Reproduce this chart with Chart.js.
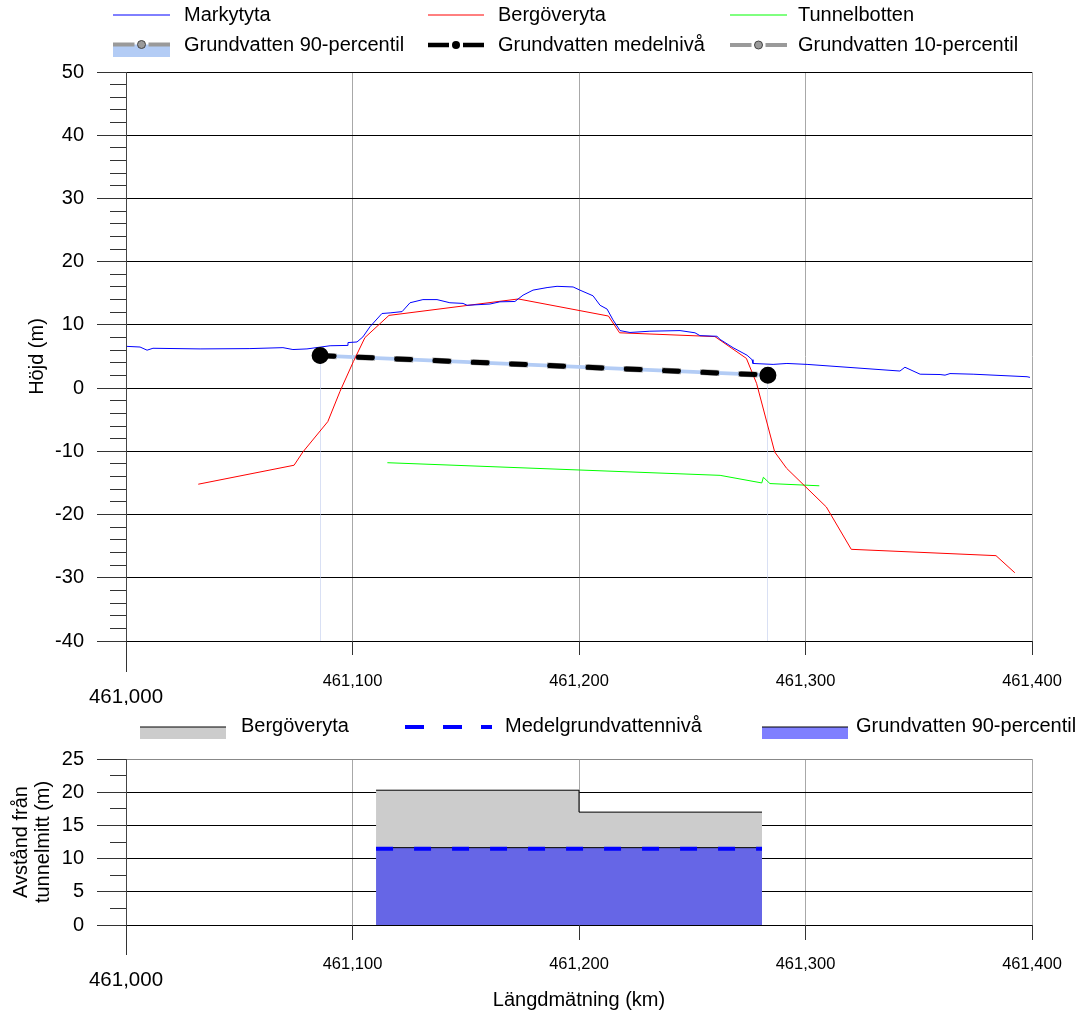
<!DOCTYPE html>
<html>
<head>
<meta charset="utf-8">
<script src="https://cdn.jsdelivr.net/npm/chart.js@4.4.1/dist/chart.umd.min.js"></script>
<style>
  html, body { margin: 0; padding: 0; background: #fff; }
  #wrap { position: relative; width: 1080px; height: 1015px; }
  #top { position: absolute; left: 0; top: 0; width: 1080px; height: 705px; }
  #bottom { position: absolute; left: 0; top: 705px; width: 1080px; height: 310px; }
</style>
</head>
<body>
<div id="wrap">
  <div id="top"><canvas id="profil"></canvas></div>
  <div id="bottom"><canvas id="avstand"></canvas></div>
</div>
<script>
// --- data (längdmätning in m, höjd in m) ---
var markX = [461000.4, 461006.2, 461009.3, 461011.9, 461032.7, 461054.7, 461069.3, 461073.7, 461079.9, 461090.1,
  461097.6, 461098.0, 461102.0, 461104.6, 461107.7, 461113.0, 461116.6, 461121.9, 461125.4, 461131.1,
  461137.3, 461143.0, 461148.8, 461150.6, 461160.7, 461165.1, 461171.7, 461175.3, 461179.7, 461185.9,
  461190.3, 461197.4, 461200.4, 461206.2, 461209.3, 461212.4, 461215.0, 461218.1, 461222.5, 461231.3,
  461244.6, 461251.2, 461253.4, 461260.9, 461262.3, 461268.0, 461274.2, 461276.4, 461276.8, 461285.7,
  461291.8, 461300.7, 461341.7, 461343.9, 461350.6, 461359.4, 461361.6, 461363.8, 461374.0, 461397.8, 461399.1];
var markY = [6.6, 6.5, 6.0, 6.3, 6.2, 6.25, 6.4, 6.1, 6.2, 6.7,
  6.75, 7.2, 7.3, 8.1, 9.7, 11.8, 11.9, 12.1, 13.5, 14.0,
  14.0, 13.5, 13.4, 13.1, 13.3, 13.65, 13.7, 14.7, 15.5, 15.9,
  16.1, 16.0, 15.5, 14.6, 13.1, 12.5, 10.8, 9.1, 8.8, 9.0,
  9.1, 8.75, 8.3, 8.2, 7.7, 6.4, 5.2, 4.5, 3.9, 3.75,
  3.9, 3.75, 2.7, 3.3, 2.2, 2.15, 2.05, 2.3, 2.2, 1.8, 1.7];

var bergX = [461031.9, 461074.2, 461078.1, 461089.1, 461094.5, 461100.4, 461105.5, 461116.1, 461173.2, 461213.0,
  461217.9, 461260.0, 461273.9, 461278.4, 461286.4, 461291.7, 461309.2, 461320.2, 461384.1, 461392.4];
var bergY = [-15.2, -12.2, -10.1, -5.3, -0.5, 4.2, 8.0, 11.5, 14.1, 11.4,
  8.75, 8.15, 4.7, 0.75, -10.1, -12.7, -18.8, -25.5, -26.5, -29.2];

var tunnelX = [461115.4, 461262.3, 461280.7, 461281.4, 461284.3, 461306.1];
var tunnelY = [-11.8, -13.8, -15.0, -14.1, -15.1, -15.45];

var gwX = [461085.7, 461283.4];
var gw90 = [5.45, 2.35];
var gwMedel = [5.15, 2.05];
var gw10 = [4.85, 1.75];

// avstånd från tunnelmitt
var bergAvstandX = [461110.4, 461200.0, 461280.8];
var bergAvstand = [20.3, 17.0, 17.0];
var gwAvstandX = [461110.4, 461280.8];
var gw90Avstand = [11.65, 11.65];
var medelAvstand = [11.5, 11.5];

var xTicks = { min: 461000, max: 461400, step: 100 };

var FONT = "'Liberation Sans', Arial, sans-serif";
Chart.defaults.font.family = FONT;
Chart.defaults.color = '#000';

function pts(xs, ys) {
  return xs.map(function (x, i) { return { x: x, y: ys[i] }; });
}

function xLabel(v) {
  var s = v.toLocaleString('en-US');
  return v === xTicks.min ? ['', s] : s;
}

function xAxis(pad, boxHeight, title) {
  return {
    type: 'linear',
    min: xTicks.min,
    max: xTicks.max,
    afterFit: function (s) {
      s.height = boxHeight;
      // tick padding is only there to push labels down, not sideways
      s.paddingLeft = 0;
      s.paddingRight = 0;
    },
    grid: { color: '#a8a8a8', drawTicks: false },
    border: { color: '#000' },
    ticks: {
      stepSize: xTicks.step,
      autoSkip: false,
      maxRotation: 0,
      padding: pad,
      callback: xLabel,
      font: function (c) {
        return c.tick && c.tick.value === xTicks.min ? { size: 20.5, lineHeight: 0.83 } : { size: 16.5, lineHeight: 1.2 };
      }
    },
    title: title
  };
}

// tick marks on both axes (long majors, short minors)
function axisTicks(yMinor, xLong, xShort) {
  return {
    id: 'axisTicks',
    afterDraw: function (chart) {
      var ctx = chart.ctx, a = chart.chartArea, x = chart.scales.x, y = chart.scales.y;
      var major = y.options.ticks.stepSize;
      ctx.save();
      ctx.strokeStyle = '#333';
      ctx.lineWidth = 1;
      ctx.beginPath();
      for (var v = y.min; v <= y.max + 1e-9; v += yMinor) {
        var py = Math.round(y.getPixelForValue(v) - 0.5) + 0.5;
        var isMajor = Math.abs(v / major - Math.round(v / major)) < 1e-6;
        ctx.moveTo(a.left - (isMajor ? 29 : 16), py);
        ctx.lineTo(a.left, py);
      }
      x.ticks.forEach(function (t, i) {
        var px = Math.round(x.getPixelForValue(t.value) - 0.5) + 0.5;
        ctx.moveTo(px, a.bottom);
        ctx.lineTo(px, a.bottom + (i === 0 ? xLong : xShort));
      });
      ctx.stroke();
      ctx.restore();
    }
  };
}

// legend laid out as a table
function tableLegend(items) {
  return {
    id: 'tableLegend',
    afterDraw: function (chart) {
      var ctx = chart.ctx;
      ctx.save();
      items.forEach(function (it) {
        if (it.box) {
          ctx.fillStyle = it.box;
          ctx.fillRect(it.x, it.y, it.w, it.boxH);
        }
        ctx.strokeStyle = it.line;
        ctx.lineWidth = it.lw;
        ctx.setLineDash(it.dash || []);
        ctx.beginPath();
        var mid = it.x + it.w / 2;
        if (it.gap) {
          ctx.moveTo(it.x, it.y); ctx.lineTo(mid - it.gap, it.y);
          ctx.moveTo(mid + it.gap, it.y); ctx.lineTo(it.x + it.w, it.y);
        } else {
          ctx.moveTo(it.x, it.y); ctx.lineTo(it.x + it.w, it.y);
        }
        ctx.stroke();
        ctx.setLineDash([]);
        if (it.dot) {
          ctx.beginPath();
          ctx.arc(mid, it.y, 4, 0, Math.PI * 2);
          ctx.fillStyle = it.dot;
          ctx.fill();
          if (it.dotStroke) { ctx.strokeStyle = it.dotStroke; ctx.lineWidth = 1; ctx.stroke(); }
        }
        ctx.fillStyle = '#000';
        ctx.font = '20px ' + FONT;
        ctx.textBaseline = 'middle';
        ctx.fillText(chart.data.datasets[it.ds].label, it.tx, it.ty);
      });
      ctx.restore();
    }
  };
}

// faint edges below the groundwater ends
var gwEdges = {
  id: 'gwEdges',
  beforeDatasetsDraw: function (chart) {
    var ctx = chart.ctx, a = chart.chartArea, x = chart.scales.x, y = chart.scales.y;
    ctx.save();
    ctx.strokeStyle = 'rgba(185,198,235,0.55)';
    ctx.lineWidth = 1;
    ctx.beginPath();
    [0, gwX.length - 1].forEach(function (i) {
      var px = Math.round(x.getPixelForValue(gwX[i]) - 0.5) + 0.5;
      ctx.moveTo(px, y.getPixelForValue(gw10[i]));
      ctx.lineTo(px, a.bottom);
    });
    ctx.stroke();
    ctx.restore();
  }
};

var profil = new Chart(document.getElementById('profil'), {
  type: 'line',
  data: {
    datasets: [
      { label: 'Markytyta', data: pts(markX, markY), borderColor: '#0000ff', borderWidth: 1, pointRadius: 0, order: 1 },
      { label: 'Bergöveryta', data: pts(bergX, bergY), borderColor: '#ff0000', borderWidth: 1, pointRadius: 0, order: 2 },
      { label: 'Tunnelbotten', data: pts(tunnelX, tunnelY), borderColor: '#00ff00', borderWidth: 1, pointRadius: 0, order: 3 },
      { label: 'Grundvatten 90-percentil', data: pts(gwX, gw90), borderColor: '#9a9a9a', borderWidth: 2,
        borderDash: [19, 19.3], borderDashOffset: 2.5, fill: '+2', backgroundColor: '#b3ccf5',
        pointRadius: 5, pointBackgroundColor: '#9a9a9a', pointBorderColor: '#333', order: 4 },
      { label: 'Grundvatten medelnivå', data: pts(gwX, gwMedel), borderColor: '#000', borderWidth: 5,
        borderDash: [14, 24.3], borderCapStyle: 'round',
        pointRadius: 6, pointBackgroundColor: '#000', pointBorderColor: '#000', order: 0 },
      { label: 'Grundvatten 10-percentil', data: pts(gwX, gw10), borderColor: '#9a9a9a', borderWidth: 2,
        borderDash: [19, 19.3], borderDashOffset: 2.5,
        pointRadius: 5, pointBackgroundColor: '#9a9a9a', pointBorderColor: '#333', order: 5 }
    ]
  },
  options: {
    animation: false,
    responsive: true,
    maintainAspectRatio: false,
    layout: { padding: { top: 72, right: 48, left: 0, bottom: 0 } },
    plugins: { legend: { display: false }, tooltip: { enabled: false } },
    scales: {
      x: xAxis(31, 64, { display: false }),
      y: {
        min: -40, max: 50,
        afterFit: function (s) { s.width = 126; },
        grid: { color: '#000', drawTicks: false },
        border: { color: '#444' },
        ticks: { stepSize: 10, padding: 42, font: { size: 20 } },
        title: { display: true, text: 'Höjd (m)', font: { size: 20 }, padding: { top: 25, bottom: 0 } }
      }
    }
  },
  plugins: [gwEdges, axisTicks(2, 31, 14), tableLegend([
    { ds: 0, x: 113, y: 15, w: 57, tx: 184, ty: 15, line: '#0000ff', lw: 1 },
    { ds: 1, x: 428, y: 15, w: 56, tx: 498, ty: 15, line: '#ff0000', lw: 1 },
    { ds: 2, x: 730, y: 15, w: 57, tx: 798, ty: 15, line: '#00ff00', lw: 1 },
    { ds: 3, x: 113, y: 44.5, w: 57, tx: 184, ty: 45, box: '#b3ccf5', boxH: 12.5, line: '#9a9a9a', lw: 4, gap: 7, dot: '#9a9a9a', dotStroke: '#444' },
    { ds: 4, x: 428, y: 45, w: 56, tx: 498, ty: 45, line: '#000', lw: 4.5, gap: 7, dot: '#000' },
    { ds: 5, x: 730, y: 45, w: 57, tx: 798, ty: 45, line: '#9a9a9a', lw: 4, gap: 7, dot: '#9a9a9a', dotStroke: '#444' }
  ])]
});

var avstand = new Chart(document.getElementById('avstand'), {
  type: 'line',
  data: {
    datasets: [
      { label: 'Bergöveryta', data: pts(bergAvstandX, bergAvstand), stepped: true, borderColor: '#000', borderWidth: 1,
        backgroundColor: '#cccccc', fill: 'origin', pointRadius: 0, order: 2 },
      { label: 'Medelgrundvattennivå', data: pts(gwAvstandX, medelAvstand), borderColor: '#0000ff', borderWidth: 4,
        borderDash: [17, 21], pointRadius: 0, order: 0 },
      { label: 'Grundvatten 90-percentil', data: pts(gwAvstandX, gw90Avstand), borderColor: '#000', borderWidth: 1,
        backgroundColor: 'rgba(0,0,255,0.5)', fill: 'origin', pointRadius: 0, order: 1 }
    ]
  },
  options: {
    animation: false,
    responsive: true,
    maintainAspectRatio: false,
    layout: { padding: { top: 50, right: 48, left: 0, bottom: 0 } },
    plugins: { legend: { display: false }, tooltip: { enabled: false } },
    scales: {
      x: xAxis(30, 90, { display: true, text: 'Längdmätning (km)', font: { size: 20 }, padding: { top: 0, bottom: 3 } }),
      y: {
        min: 0, max: 25,
        afterFit: function (s) { s.width = 126; },
        grid: { color: function (c) { return c.tick && c.tick.value === 25 ? '#888' : '#000'; }, drawTicks: false },
        border: { color: '#444' },
        ticks: { stepSize: 5, padding: 42, font: { size: 20 } },
        title: { display: true, text: ['Avstånd från', 'tunnelmitt (m)'], font: { size: 20, lineHeight: 1.1 }, padding: { top: 10, bottom: 0 } }
      }
    }
  },
  plugins: [axisTicks(2.5, 30, 15), tableLegend([
    { ds: 0, x: 140, y: 22, w: 86, tx: 241, ty: 21, box: '#cccccc', boxH: 12, line: '#000', lw: 1 },
    { ds: 1, x: 405, y: 22, w: 87, tx: 505, ty: 21, line: '#0000ff', lw: 4, dash: [19, 19] },
    { ds: 2, x: 762, y: 22, w: 86, tx: 856, ty: 21, box: 'rgba(0,0,255,0.5)', boxH: 12, line: '#000', lw: 1 }
  ])]
});
</script>
</body>
</html>
